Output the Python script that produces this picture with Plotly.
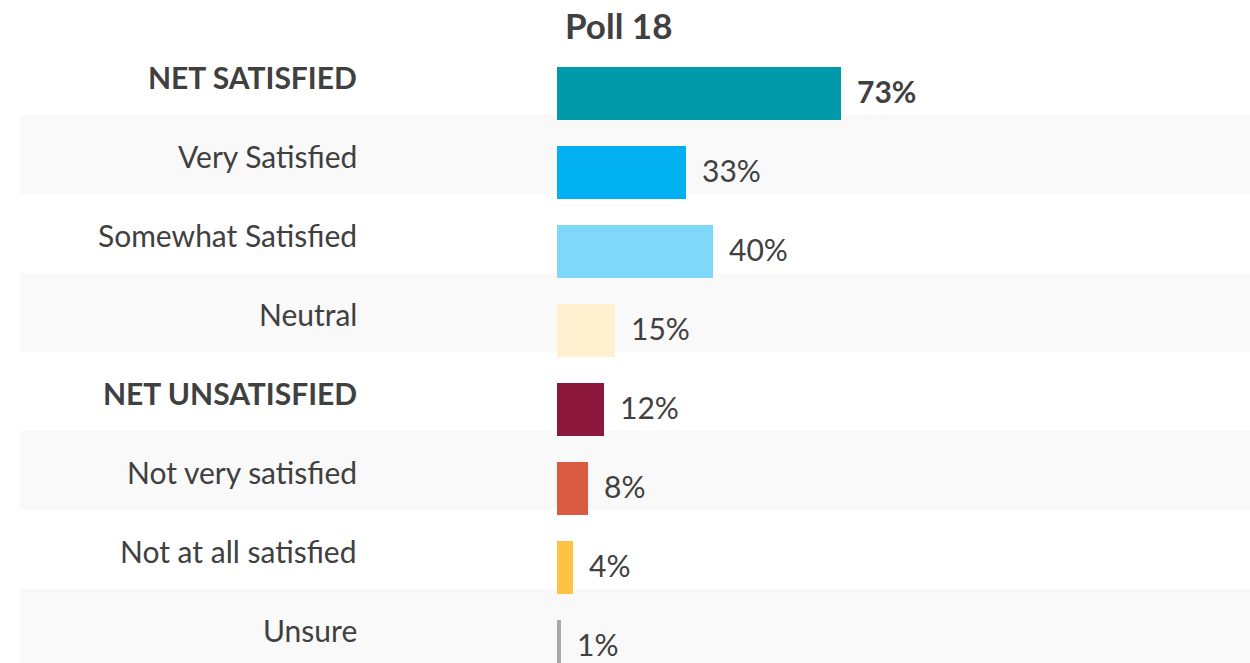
import plotly.graph_objects as go

# Poll results
categories = ["NET SATISFIED", "Very Satisfied", "Somewhat Satisfied", "Neutral",
              "NET UNSATISFIED", "Not very satisfied", "Not at all satisfied", "Unsure"]
values = [73, 33, 40, 15, 12, 8, 4, 1]
bold_labels = [True, False, False, False, True, False, False, False]
bold_values = [True, False, False, False, False, False, False, False]
bar_colors = ["#009AA9", "#00B0F0", "#80D8F9", "#FFF1D0",
              "#8C183D", "#DB5A42", "#FFC244", "#A8A8A8"]
title_text = "Poll 18"

W, H = 1250, 663
FONT = "Lato"
TEXT = "#404040"

positions = list(range(len(categories)))

fig = go.Figure()
fig.add_trace(go.Bar(
    x=values, y=positions, orientation="h",
    marker=dict(color=bar_colors, line=dict(width=0)),
    width=0.67, hoverinfo="skip", showlegend=False,
))

shapes = []
annotations = []
for i, (cat, val) in enumerate(zip(categories, values)):
    # alternating light bands behind every second row
    if i % 2 == 1:
        shapes.append(dict(
            type="rect", xref="paper", yref="y",
            x0=20 / W, x1=1.0, y0=i - 0.728, y1=i + 0.272,
            fillcolor="#F9F9F9", line=dict(width=0), layer="below",
        ))
    label = f"<b>{cat}</b>" if bold_labels[i] else cat
    annotations.append(dict(
        xref="paper", yref="y", x=358 / W, y=i - 0.2, yshift=1,
        text=label, showarrow=False, xanchor="right", yanchor="middle",
        font=dict(family=FONT, size=30, color=TEXT), borderpad=0,
    ))
    vtxt = f"{val}%"
    annotations.append(dict(
        xref="x", yref="y", x=val, y=i, xshift=15, yshift=3,
        text=f"<b>{vtxt}</b>" if bold_values[i] else vtxt,
        showarrow=False, xanchor="left", yanchor="middle",
        font=dict(family=FONT, size=30, color=TEXT), borderpad=0,
    ))

annotations.append(dict(
    xref="paper", yref="paper", x=563 / W, y=1 - 25 / H,
    text=f"<b>{title_text}</b>", showarrow=False,
    xanchor="left", yanchor="middle",
    font=dict(family=FONT, size=35, color=TEXT),
))

px_per_unit = 3.895
row_px = 79
zero_px = 557
first_center = 93.5

fig.update_layout(
    width=W, height=H,
    margin=dict(l=0, r=0, t=0, b=0),
    paper_bgcolor="white", plot_bgcolor="rgba(0,0,0,0)",
    xaxis=dict(range=[-zero_px / px_per_unit, (W - zero_px) / px_per_unit],
               visible=False, fixedrange=True),
    yaxis=dict(range=[(H - first_center) / row_px, -first_center / row_px],
               visible=False, fixedrange=True),
    shapes=shapes, annotations=annotations, bargap=0,
)

fig.write_html("out.html", config={"displayModeBar": False})
